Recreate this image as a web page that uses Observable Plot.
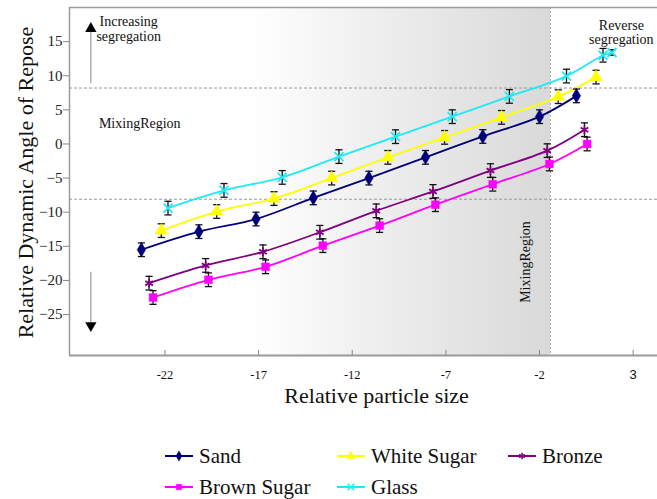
<!DOCTYPE html>
<html>
<head>
<meta charset="utf-8">
<script src="https://cdn.jsdelivr.net/npm/d3@7"></script>
<script src="https://cdn.jsdelivr.net/npm/@observablehq/plot@0.6"></script>
<style>
  body { margin: 0; background: #fff; }
  #wrap { position: relative; width: 657px; height: 499px; overflow: hidden; font-family: "Liberation Serif", "Times New Roman", serif; }
  #legend { position: absolute; left: 0; top: 420px; width: 657px; height: 79px; }
  .item { position: absolute; display: flex; align-items: center; font-size: 21px; color: #111; white-space: nowrap; font-family: "Liberation Serif", "Times New Roman", serif; }
  .item svg { margin-right: 6px; }
</style>
</head>
<body>
<div id="wrap"><div id="chart"></div><div id="legend"></div></div>
<script>
// ---- data ----
const seriesNames = ["Sand", "White Sugar", "Bronze", "Brown Sugar", "Glass"];

const sandX = [-23.26, -20.19, -17.14, -14.08, -11.11, -8.09, -5.03, -2.0, -0.03];
const sandY = [-15.5, -12.85, -11.0, -7.9, -5.0, -1.96, 1.1, 4.0, 7.05];
const sandErr = [1.0, 1.0, 1.0, 1.0, 1.0, 1.0, 1.0, 1.0, 1.0];

const whiteSugarX = [-22.2, -19.24, -16.18, -13.1, -10.1, -7.07, -4.03, -1.0, 1.02];
const whiteSugarY = [-12.7, -9.9, -8.0, -5.0, -1.96, 0.97, 3.9, 6.93, 9.8];
const whiteSugarErr = [1.0, 1.0, 1.0, 1.0, 1.0, 1.0, 1.0, 1.0, 1.0];

const bronzeX = [-22.85, -19.83, -16.77, -13.73, -10.72, -7.69, -4.62, -1.59, 0.4];
const bronzeY = [-20.4, -17.8, -15.8, -12.94, -9.8, -6.96, -3.9, -0.98, 2.09];
const bronzeErr = [1.0, 1.0, 1.0, 1.0, 1.0, 1.0, 1.0, 1.0, 1.0];

const brownSugarX = [-22.64, -19.68, -16.63, -13.57, -10.54, -7.56, -4.5, -1.47, 0.54];
const brownSugarY = [-22.5, -19.9, -18.0, -14.9, -11.96, -8.9, -5.9, -2.93, 0.0];
const brownSugarErr = [1.0, 1.0, 1.0, 1.0, 1.0, 1.0, 1.0, 1.0, 1.0];

const glassX = [-21.84, -18.85, -15.74, -12.71, -9.69, -6.66, -3.61, -0.56, 1.39, 1.87];
const glassY = [-9.4, -6.8, -4.9, -1.85, 1.07, 4.0, 6.97, 9.95, 13.0, 13.4];
const glassErr = [1.0, 1.0, 1.0, 1.0, 1.0, 1.0, 1.0, 1.0, 1.0, 0.4];

const xTickLabels = [-22, -17, -12, -7, -2];
const xTickLast = [3];
const yTickLabels = [15, 10, 5, 0, -5, -10, -15, -20, -25];
const mixingBounds = [8.2, -8.1];
const mixingEdge = [-1.42];

// ---- styles ----
const FONT = "Liberation Serif, Times New Roman, serif";
const styles = {
  "Sand":        {color: "#00007a", symbol: "diamond",  fill: true,  r: 4.4},
  "White Sugar": {color: "#ffff00", symbol: "triangle", fill: true,  r: 4.6},
  "Bronze":      {color: "#800080", symbol: "asterisk", fill: false, r: 4.2},
  "Brown Sugar": {color: "#ff00ff", symbol: "square",   fill: true,  r: 4.4},
  "Glass":       {color: "#1fe9f5", symbol: "times",    fill: false, r: 4.2}
};

const raw = {
  "Sand": [sandX, sandY, sandErr],
  "White Sugar": [whiteSugarX, whiteSugarY, whiteSugarErr],
  "Bronze": [bronzeX, bronzeY, bronzeErr],
  "Brown Sugar": [brownSugarX, brownSugarY, brownSugarErr],
  "Glass": [glassX, glassY, glassErr]
};
const tables = seriesNames.map(name => {
  const [xs, ys, es] = raw[name];
  return {name, rows: xs.map((x, i) => ({x, y: ys[i], e: es[i]}))};
});

const X0 = -27.1, X1 = 4.3, Y0 = -31, Y1 = 20;
const capHalf = 0.19;

const marks = [
  // gradient shading of mixing region
  Plot.rect([{a: -17.4, b: mixingEdge[0]}], {x1: "a", x2: "b", y1: Y0, y2: Y1, fill: "url(#mixgrad)"}),
  Plot.ruleY(mixingBounds, {stroke: "#9a9a9a", strokeDasharray: "3,2", strokeWidth: 1}),
  Plot.ruleX(mixingEdge, {stroke: "#a0a0a0", strokeDasharray: "2,2", strokeWidth: 1}),
  // frame
  Plot.ruleX([X0], {stroke: "#9a9a9a", strokeWidth: 1.5}),
  Plot.ruleY([Y1], {stroke: "#9a9a9a", strokeWidth: 1.5}),
  Plot.ruleY([Y0], {stroke: "#9a9a9a", strokeWidth: 2}),
  // x ticks (inward) and labels
  Plot.ruleX(xTickLabels.concat(xTickLast), {y1: Y0, y2: Y0 + 0.75, stroke: "#888"}),
  Plot.text(xTickLabels, {x: d => d, y: Y0, dy: 19, text: d => String(d), fontFamily: FONT, fontSize: 12.5, fill: "#111"}),
  Plot.text(xTickLast, {x: d => d, y: Y0, dy: 19, text: d => String(d), fontFamily: "Liberation Sans, Arial, sans-serif", fontSize: 13, fill: "#111"}),
  // y ticks (outward) and labels
  Plot.axisY({ticks: yTickLabels, tickSize: 6, tickPadding: 1, fontSize: 15, fontFamily: FONT, color: "#222", label: null}),
  // annotations
  Plot.ruleX([-25.96], {y1: 8.8, y2: 16.6, stroke: "#888", strokeWidth: 1}),
  Plot.dot([{x: -25.96, y: 16.9}], {x: "x", y: "y", symbol: "triangle", r: 4.2, fill: "#000", stroke: "none"}),
  Plot.ruleX([-25.96], {y1: -18.8, y2: -26.2, stroke: "#888", strokeWidth: 1}),
  Plot.dot([{x: -25.96, y: -26.6}], {x: "x", y: "y", symbol: "triangle", r: 4.2, fill: "#000", stroke: "none", rotate: 180}),
  Plot.text([{x: -23.94, y: 16.9}], {x: "x", y: "y", text: () => "Increasing\nsegregation", lineHeight: 1.05, fontFamily: FONT, fontSize: 14, fill: "#111"}),
  Plot.text([{x: -25.53, y: 2.97}], {x: "x", y: "y", text: () => "MixingRegion", textAnchor: "start", fontFamily: FONT, fontSize: 14, fill: "#111"}),
  Plot.text([{x: -2.75, y: -17.3}], {x: "x", y: "y", text: () => "MixingRegion", rotate: -90, fontFamily: FONT, fontSize: 14, fill: "#111"}),
  Plot.text([{x: 2.37, y: 16.3}], {x: "x", y: "y", text: () => "Reverse\nsegregation", lineHeight: 1.02, fontFamily: FONT, fontSize: 14, fill: "#111"}),
  // axis titles
  Plot.text([{x: -10.7, y: Y0}], {x: "x", y: "y", dy: 40, text: () => "Relative particle size", fontFamily: FONT, fontSize: 22, fill: "#111"}),
  Plot.text([{x: X0, y: -5.65}], {x: "x", y: "y", dx: -44, text: () => "Relative Dynamic Angle of Repose", rotate: -90, fontFamily: FONT, fontSize: 22, fill: "#111"})
];

// series: lines
for (const t of tables) {
  const s = styles[t.name];
  marks.push(Plot.line(t.rows, {x: "x", y: "y", stroke: s.color, strokeWidth: 1.8, curve: "catmull-rom"}));
}
// error bars
for (const t of tables) {
  marks.push(Plot.ruleX(t.rows, {x: "x", y1: d => d.y - d.e, y2: d => d.y + d.e, stroke: "#111", strokeWidth: 1.3}));
  marks.push(Plot.link(t.rows, {x1: d => d.x - capHalf, x2: d => d.x + capHalf, y1: d => d.y - d.e, y2: d => d.y - d.e, stroke: "#111", strokeWidth: 1.3}));
  marks.push(Plot.link(t.rows, {x1: d => d.x - capHalf, x2: d => d.x + capHalf, y1: d => d.y + d.e, y2: d => d.y + d.e, stroke: "#111", strokeWidth: 1.3}));
}
// markers
for (const t of tables) {
  const s = styles[t.name];
  marks.push(Plot.dot(t.rows, {x: "x", y: "y", symbol: s.symbol, r: s.r,
    fill: s.fill ? s.color : "none", stroke: s.color, strokeWidth: s.fill ? 0.5 : 1.8}));
}

const svg = Plot.plot({
  width: 657, height: 420,
  marginLeft: 69, marginRight: 0, marginTop: 7, marginBottom: 65,
  style: {fontFamily: FONT, background: "#fff", overflow: "visible"},
  x: {domain: [X0, X1], axis: null},
  y: {domain: [Y0, Y1], axis: null},
  marks
});

// gradient definition
const defs = d3.select(svg).insert("defs", ":first-child");
const g = defs.append("linearGradient").attr("id", "mixgrad").attr("x1", "0").attr("x2", "1").attr("y1", "0").attr("y2", "0");
g.append("stop").attr("offset", "0").attr("stop-color", "#ffffff");
g.append("stop").attr("offset", "0.35").attr("stop-color", "#f1f1f1");
g.append("stop").attr("offset", "1").attr("stop-color", "#d9d9d9");
d3.select(svg).selectAll("[aria-label='y-axis tick'] path, [aria-label='y-axis tick']").attr("stroke", "#888");

document.getElementById("chart").appendChild(svg);

// ---- legend ----
const legendPos = {
  "Sand": [165, 36], "White Sugar": [337, 36], "Bronze": [508, 36],
  "Brown Sugar": [165, 67], "Glass": [337, 67]
};
const leg = d3.select("#legend");
for (const name of seriesNames) {
  const s = styles[name];
  const [lx, ly] = legendPos[name];
  const item = leg.append("div").attr("class", "item").style("left", lx + "px").style("top", (ly - 14) + "px").style("height", "28px");
  const sw = item.append("svg").attr("width", 28).attr("height", 12);
  sw.append("line").attr("x1", 0).attr("x2", 28).attr("y1", 6).attr("y2", 6).attr("stroke", s.color).attr("stroke-width", 2);
  const sym = {diamond: d3.symbolDiamond, triangle: d3.symbolTriangle, asterisk: d3.symbolAsterisk, square: d3.symbolSquare, times: d3.symbolTimes}[s.symbol];
  sw.append("path").attr("transform", "translate(14,6)").attr("d", d3.symbol(sym, 30)())
    .attr("fill", s.fill ? s.color : "none").attr("stroke", s.color).attr("stroke-width", s.fill ? 0.5 : 1.5);
  item.append("span").text(name);
}
</script>
</body>
</html>
